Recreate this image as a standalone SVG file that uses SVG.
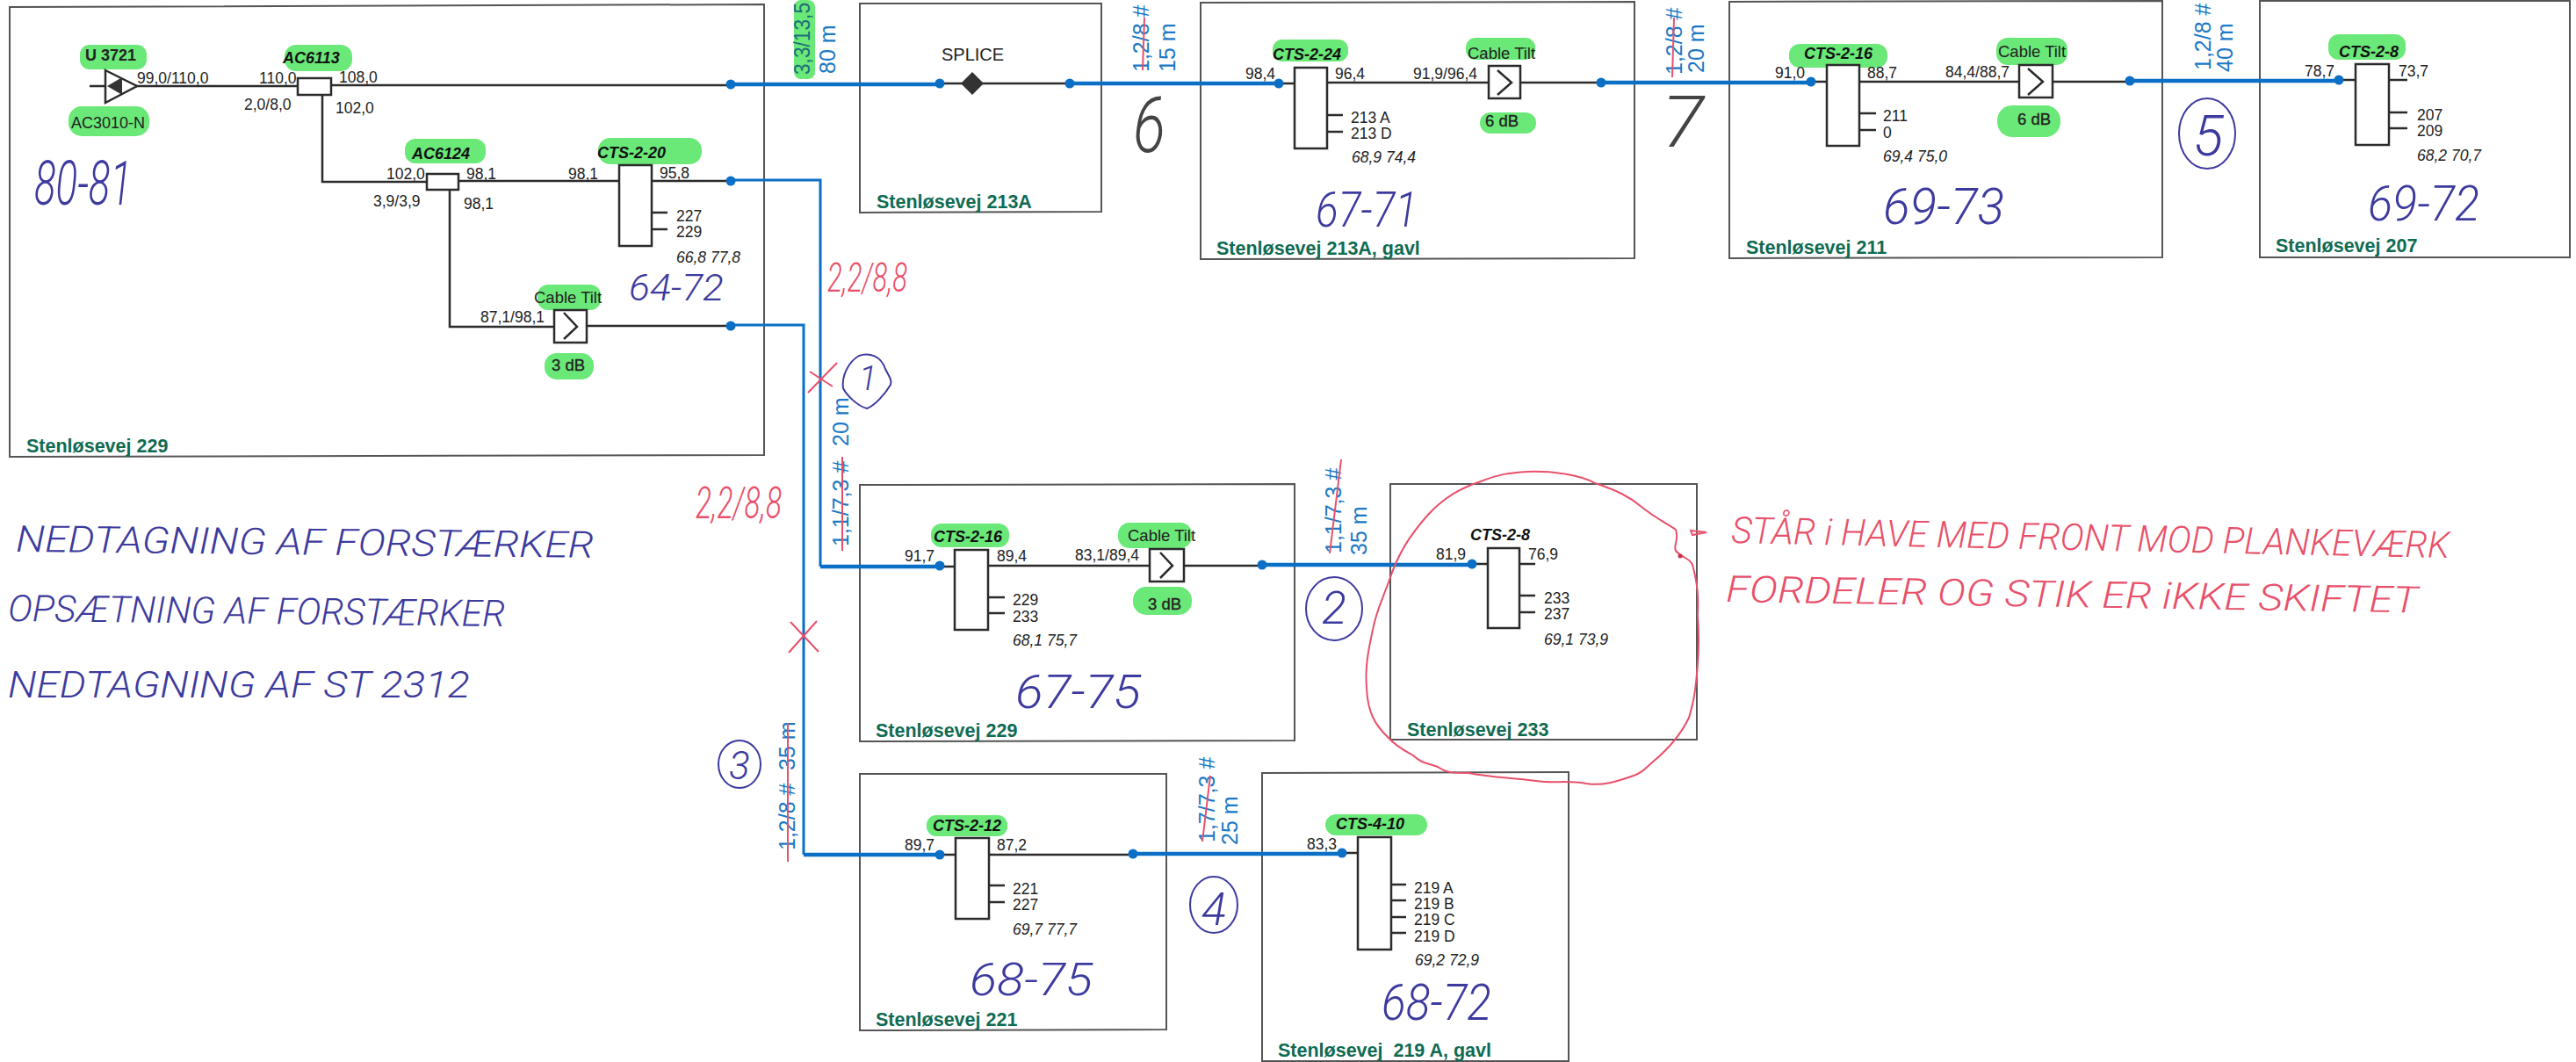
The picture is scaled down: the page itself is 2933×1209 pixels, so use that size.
<svg xmlns="http://www.w3.org/2000/svg" width="2933" height="1209" viewBox="0 0 2933 1209">
<style>
text{font-family:"Liberation Sans",Arial,sans-serif;fill:#222}
.b{fill:none;stroke:#555;stroke-width:2}
.d{fill:#fff;stroke:#2b2b2b;stroke-width:2.5}
.k{fill:none;stroke:#2b2b2b;stroke-width:2.5}
.bl{fill:none;stroke:#0b6fc6;stroke-width:3}
.bt{fill:none;stroke:#0b6fc6;stroke-width:4.5}
.dot{fill:#0b6fc6}
.h{fill:#6ae878}
.v{font-size:17.5px}
.i{font-size:17.5px;font-style:italic}
.n{font-size:18px;font-weight:bold;font-style:italic;fill:#111}
.t{font-size:18.5px}
.db{font-size:18.5px;text-anchor:middle;stroke:#222;stroke-width:.35}
.s{font-size:21.5px;font-weight:bold;fill:#0f6b52}
.c{font-size:25px;fill:#1b79c6}
.hb{font-family:Roboto,sans-serif;font-style:italic;font-weight:300;fill:#3d3a9e}
.hr{font-family:Roboto,sans-serif;font-style:italic;font-weight:300;fill:#e8506a}
.hg{font-family:Roboto,sans-serif;font-style:italic;font-weight:300;fill:#444}
.rl{fill:none;stroke:#e8506a;stroke-width:2}
.bc{fill:none;stroke:#3d3a9e;stroke-width:2}
</style>
<rect width="2933" height="1209" fill="#fff"/>

<g id="box-stenlosevej-229">
<path class="b" d="M11 8L870 5V518L11 520Z"/>
<text class="s" x="30" y="515">Stenløsevej 229</text>
<text class="hb" font-size="70" x="39" y="233" textLength="111" lengthAdjust="spacingAndGlyphs">80-81</text>
<text class="hb" font-size="42" x="716" y="342" textLength="108" lengthAdjust="spacingAndGlyphs">64-72</text>
</g>
<g id="box-stenlosevej-213a">
<path class="b" d="M979 4H1254V241L979 242Z"/>
<text class="s" x="998" y="237">Stenløsevej 213A</text>
</g>
<g id="box-stenlosevej-213a-gavl">
<path class="b" d="M1367 3L1861 2V294L1367 295Z"/>
<text class="s" x="1385" y="290">Stenløsevej 213A, gavl</text>
<text class="hb" font-size="56" x="1498" y="258" textLength="116" lengthAdjust="spacingAndGlyphs">67-71</text>
</g>
<g id="box-stenlosevej-211">
<path class="b" d="M1969 2L2462 1V293L1969 294Z"/>
<text class="s" x="1988" y="289">Stenløsevej 211</text>
<text class="hb" font-size="58" x="2144" y="255" textLength="138" lengthAdjust="spacingAndGlyphs">69-73</text>
</g>
<g id="box-stenlosevej-207">
<path class="b" d="M2573 1H2926V293H2573Z"/>
<text class="s" x="2591" y="287">Stenløsevej 207</text>
<text class="hb" font-size="56" x="2696" y="251" textLength="127" lengthAdjust="spacingAndGlyphs">69-72</text>
</g>
<g id="box-stenlosevej-229b">
<path class="b" d="M979 552L1474 551V843L979 844Z"/>
<text class="s" x="997" y="839">Stenløsevej 229</text>
<text class="hb" font-size="54" x="1156" y="806" textLength="143" lengthAdjust="spacingAndGlyphs">67-75</text>
</g>
<g id="box-stenlosevej-233">
<path class="b" d="M1583 551H1932V842H1583Z"/>
<text class="s" x="1602" y="838">Stenløsevej 233</text>
</g>
<g id="box-stenlosevej-221">
<path class="b" d="M979 881H1328V1172L979 1173Z"/>
<text class="s" x="997" y="1168">Stenløsevej 221</text>
<text class="hb" font-size="52" x="1104" y="1133" textLength="140" lengthAdjust="spacingAndGlyphs">68-75</text>
</g>
<g id="box-stenlosevej-219a-gavl">
<path class="b" d="M1437 880L1786 879V1208H1437Z"/>
<text class="s" x="1455" y="1203" xml:space="preserve">Stenløsevej  219 A, gavl</text>
<text class="hb" font-size="58" x="1573" y="1161" textLength="125" lengthAdjust="spacingAndGlyphs">68-72</text>
</g>

<g id="connectors">
<path class="k" d="M102 98H339M377 97H832M367 108V207H486M522 206H705M742 206H832M512 216V372H631M668 371H832"/>
<path class="k" d="M1070 95H1218M1456 95H1474M1511 94H1823M2062 93H2080M2117 93H2425M2663 91H2741"/>
<path class="k" d="M1070 645H1087M1125 644H1437M1676 642H1748M1070 973H1088M1126 973H1290M1528 971H1546"/>
<path class="bt" d="M832 96H1070M1218 95H1456M1823 94H2062M2425 92H2663"/>
<path class="bl" d="M832 205H934V645"/>
<path class="bl" d="M832 370H915V973"/>
<path class="bt" d="M934 645H1070M915 973H1070M1437 643H1676M1290 972H1528"/>
<circle class="dot" cx="832" cy="96" r="5.5"/><circle class="dot" cx="832" cy="206" r="5.5"/><circle class="dot" cx="832" cy="371" r="5.5"/>
<circle class="dot" cx="1070" cy="95" r="5.5"/><circle class="dot" cx="1218" cy="95" r="5.5"/><circle class="dot" cx="1456" cy="95" r="5.5"/>
<circle class="dot" cx="1823" cy="94" r="5.5"/><circle class="dot" cx="2062" cy="93" r="5.5"/><circle class="dot" cx="2425" cy="92" r="5.5"/><circle class="dot" cx="2663" cy="91" r="5.5"/>
<circle class="dot" cx="1070" cy="644" r="5.5"/><circle class="dot" cx="1437" cy="643" r="5.5"/><circle class="dot" cx="1676" cy="642" r="5.5"/>
<circle class="dot" cx="1070" cy="973" r="5.5"/><circle class="dot" cx="1290" cy="972" r="5.5"/><circle class="dot" cx="1528" cy="971" r="5.5"/>
</g>

<g id="cable-labels">
<rect class="h" x="904" y="0" width="24" height="90" rx="8"/>
<text class="c" style="fill:#1f6f7a" transform="translate(922 85) rotate(-90)" textLength="82" lengthAdjust="spacingAndGlyphs">3,3/13,5</text>
<text class="c" transform="translate(951 84) rotate(-90)">80 m</text>
<text class="c" transform="translate(1308 82) rotate(-90)">1,2/8 #</text>
<text class="c" transform="translate(1338 82) rotate(-90)">15 m</text>
<text class="c" transform="translate(1915 85) rotate(-90)">1,2/8 #</text>
<text class="c" transform="translate(1940 83) rotate(-90)">20 m</text>
<text class="c" transform="translate(2517 80) rotate(-90)">1,2/8 #</text>
<text class="c" transform="translate(2542 82) rotate(-90)">40 m</text>
<text class="c" transform="translate(966 622) rotate(-90)">1,1/7,3 #</text>
<text class="c" transform="translate(966 508) rotate(-90)">20 m</text>
<text class="c" transform="translate(1527 630) rotate(-90)">1,1/7,3 #</text>
<text class="c" transform="translate(1556 632) rotate(-90)">35 m</text>
<text class="c" transform="translate(905 968) rotate(-90)">1,2/8 #</text>
<text class="c" transform="translate(905 877) rotate(-90)">35 m</text>
<text class="c" transform="translate(1383 959) rotate(-90)">1,7/7,3 #</text>
<text class="c" transform="translate(1409 962) rotate(-90)">25 m</text>
</g>

<g id="amplifier-u3721">
<rect class="h" x="91" y="51" width="76" height="28" rx="11"/>
<rect class="h" x="78" y="121" width="92" height="34" rx="15"/>
<path class="d" d="M120 80L156 98L120 117Z"/>
<path d="M122 98L139 88V108Z" fill="#333"/>
<text x="97" y="69" font-size="18" font-weight="bold">U 3721</text>
<text x="81" y="146" font-size="18">AC3010-N</text>
<text class="v" x="156" y="95">99,0/110,0</text>
</g>
<g id="splitter-ac6113">
<rect class="h" x="324" y="51" width="77" height="30" rx="13"/>
<rect class="d" x="339" y="89" width="38" height="19"/>
<text class="n" x="322" y="72">AC6113</text>
<text class="v" x="295" y="95">110,0</text>
<text class="v" x="386" y="94">108,0</text>
<text class="v" x="278" y="125">2,0/8,0</text>
<text class="v" x="382" y="129">102,0</text>
</g>
<g id="splitter-ac6124">
<rect class="h" x="461" y="158" width="92" height="28" rx="12"/>
<rect class="d" x="486" y="198" width="36" height="18"/>
<text class="n" x="469" y="181">AC6124</text>
<text class="v" x="440" y="204">102,0</text>
<text class="v" x="531" y="204">98,1</text>
<text class="v" x="425" y="235">3,9/3,9</text>
<text class="v" x="528" y="238">98,1</text>
</g>
<g id="tap-cts-2-20">
<rect class="h" x="681" y="157" width="118" height="30" rx="14"/>
<path class="k" d="M742 242H760M742 261H760"/>
<rect class="d" x="705" y="188" width="37" height="92"/>
<text class="n" x="680" y="180">CTS-2-20</text>
<text class="v" x="647" y="204">98,1</text>
<text class="v" x="751" y="203">95,8</text>
<text class="v" x="770" y="252">227</text>
<text class="v" x="770" y="270">229</text>
<text class="i" x="770" y="299">66,8 77,8</text>
</g>
<g id="tilt-3db-a">
<rect class="h" x="612" y="324" width="72" height="29" rx="12"/>
<rect class="h" x="620" y="402" width="56" height="30" rx="14"/>
<rect class="d" x="631" y="353" width="37" height="37"/>
<path class="k" d="M642 356L657 372L642 386"/>
<text class="t" x="608" y="345">Cable Tilt</text>
<text class="v" x="547" y="367">87,1/98,1</text>
<text class="db" x="647" y="422">3 dB</text>
</g>
<g id="splice">
<path d="M1107 82L1120 95L1107 108L1094 95Z" fill="#333"/>
<text x="1072" y="69" font-size="20">SPLICE</text>
</g>
<g id="tap-cts-2-24">
<rect class="h" x="1449" y="45" width="86" height="25" rx="11"/>
<path class="k" d="M1511 131H1529M1511 150H1529"/>
<rect class="d" x="1474" y="77" width="37" height="92"/>
<text class="n" x="1449" y="68">CTS-2-24</text>
<text class="v" x="1418" y="90">98,4</text>
<text class="v" x="1520" y="90">96,4</text>
<text class="v" x="1538" y="140">213 A</text>
<text class="v" x="1538" y="158">213 D</text>
<text class="i" x="1539" y="185">68,9 74,4</text>
</g>
<g id="tilt-6db-a">
<rect class="h" x="1669" y="43" width="79" height="25" rx="11"/>
<rect class="h" x="1685" y="128" width="64" height="24" rx="12"/>
<rect class="d" x="1695" y="75" width="36" height="37"/>
<path class="k" d="M1705 80L1721 94L1705 108"/>
<text class="t" x="1671" y="67">Cable Tilt</text>
<text class="v" x="1609" y="90">91,9/96,4</text>
<text class="db" x="1710" y="144">6 dB</text>
</g>
<g id="tap-cts-2-16-a">
<rect class="h" x="2037" y="50" width="112" height="27" rx="12"/>
<path class="k" d="M2117 129H2136M2117 148H2136"/>
<rect class="d" x="2080" y="74" width="37" height="92"/>
<text class="n" x="2054" y="67">CTS-2-16</text>
<text class="v" x="2021" y="89">91,0</text>
<text class="v" x="2126" y="89">88,7</text>
<text class="v" x="2144" y="138">211</text>
<text class="v" x="2144" y="157">0</text>
<text class="i" x="2144" y="184">69,4 75,0</text>
</g>
<g id="tilt-6db-b">
<rect class="h" x="2273" y="43" width="81" height="31" rx="13"/>
<rect class="h" x="2274" y="120" width="72" height="36" rx="17"/>
<rect class="d" x="2299" y="74" width="38" height="37"/>
<path class="k" d="M2309 78L2326 93L2309 108"/>
<text class="t" x="2275" y="65">Cable Tilt</text>
<text class="v" x="2215" y="88">84,4/88,7</text>
<text class="db" x="2316" y="142">6 dB</text>
</g>
<g id="tap-cts-2-8-a">
<rect class="h" x="2651" y="39" width="88" height="29" rx="12"/>
<path class="k" d="M2720 128H2741M2720 146H2741"/>
<rect class="d" x="2682" y="73" width="38" height="92"/>
<text class="n" x="2663" y="65">CTS-2-8</text>
<text class="v" x="2624" y="87">78,7</text>
<text class="v" x="2731" y="87">73,7</text>
<text class="v" x="2752" y="137">207</text>
<text class="v" x="2752" y="155">209</text>
<text class="i" x="2752" y="183">68,2 70,7</text>
</g>
<g id="tap-cts-2-16-b">
<rect class="h" x="1060" y="596" width="89" height="27" rx="12"/>
<path class="k" d="M1125 680H1144M1125 698H1144"/>
<rect class="d" x="1087" y="626" width="38" height="91"/>
<text class="n" x="1063" y="617">CTS-2-16</text>
<text class="v" x="1030" y="639">91,7</text>
<text class="v" x="1135" y="639">89,4</text>
<text class="v" x="1153" y="689">229</text>
<text class="v" x="1153" y="708">233</text>
<text class="i" x="1153" y="735">68,1 75,7</text>
</g>
<g id="tilt-3db-b">
<rect class="h" x="1273" y="595" width="84" height="29" rx="13"/>
<rect class="h" x="1290" y="668" width="67" height="32" rx="15"/>
<rect class="d" x="1309" y="625" width="39" height="37"/>
<path class="k" d="M1321 629L1335 644L1321 658"/>
<text class="t" x="1284" y="616">Cable Tilt</text>
<text class="v" x="1224" y="638">83,1/89,4</text>
<text class="db" x="1326" y="694">3 dB</text>
</g>
<g id="tap-cts-2-8-b">
<path class="k" d="M1730 678H1748M1730 697H1748"/>
<rect class="d" x="1694" y="624" width="36" height="91"/>
<text class="n" x="1674" y="615">CTS-2-8</text>
<text class="v" x="1635" y="637">81,9</text>
<text class="v" x="1740" y="637">76,9</text>
<text class="v" x="1758" y="687">233</text>
<text class="v" x="1758" y="705">237</text>
<text class="i" x="1758" y="734">69,1 73,9</text>
</g>
<g id="tap-cts-2-12">
<rect class="h" x="1055" y="928" width="92" height="24" rx="11"/>
<path class="k" d="M1126 1008H1144M1126 1027H1144"/>
<rect class="d" x="1088" y="954" width="38" height="92"/>
<text class="n" x="1062" y="946">CTS-2-12</text>
<text class="v" x="1030" y="968">89,7</text>
<text class="v" x="1135" y="968">87,2</text>
<text class="v" x="1153" y="1018">221</text>
<text class="v" x="1153" y="1036">227</text>
<text class="i" x="1153" y="1064">69,7 77,7</text>
</g>
<g id="tap-cts-4-10">
<rect class="h" x="1509" y="927" width="116" height="24" rx="12"/>
<path class="k" d="M1584 1007H1601M1584 1025H1601M1584 1044H1601M1584 1062H1601"/>
<rect class="d" x="1546" y="953" width="38" height="128"/>
<text class="n" x="1521" y="944">CTS-4-10</text>
<text class="v" x="1488" y="967">83,3</text>
<text class="v" x="1610" y="1017">219 A</text>
<text class="v" x="1610" y="1035">219 B</text>
<text class="v" x="1610" y="1053">219 C</text>
<text class="v" x="1610" y="1072">219 D</text>
<text class="i" x="1611" y="1099">69,2 72,9</text>
</g>

<g id="red-annotations">
<path class="rl" d="M1301 80L1303 20M1904 88L1906 20M959 627V520M897 981V823M1514 630L1527 523M1369 958L1378 883"/>
<path class="rl" d="M920 447L953 413M922 423L948 440M898 743L930 707M900 708L932 742"/>
<path class="rl" d="M1739 537C1770 536 1800 541 1816 550C1840 558 1855 565 1869 577C1885 590 1900 597 1908 603C1912 615 1905 620 1908 627C1915 635 1925 636 1927 643C1933 665 1934 680 1933 700C1935 730 1934 750 1932 767C1930 790 1928 800 1923 817C1912 840 1897 855 1881 868C1870 878 1868 880 1860 883C1840 890 1825 895 1806 892C1785 888 1768 892 1749 889C1720 885 1697 885 1672 880C1655 880 1647 880 1637 873C1625 868 1620 870 1609 860C1600 855 1590 850 1581 840C1565 825 1557 810 1556 783C1554 760 1558 740 1563 717C1567 695 1575 680 1582 660C1592 630 1605 610 1625 587C1645 565 1665 555 1686 548C1705 540 1720 538 1739 537Z"/>
<path class="rl" d="M1925 604L1943 606L1927 609Z"/>
<circle cx="1913" cy="633" r="2.5" fill="#c9304a"/>
<text class="hr" font-size="46" x="942" y="332" textLength="91" lengthAdjust="spacingAndGlyphs">2,2/8,8</text>
<text class="hr" font-size="50" x="792" y="590" textLength="98" lengthAdjust="spacingAndGlyphs">2,2/8,8</text>
<text class="hr" font-size="42" transform="translate(1971 618) rotate(1.2)" textLength="818" lengthAdjust="spacingAndGlyphs">STÅR i HAVE MED FRONT MOD PLANKEVÆRK</text>
<text class="hr" font-size="42" transform="translate(1965 685) rotate(0.9)" textLength="788" lengthAdjust="spacingAndGlyphs">FORDELER OG STIK ER iKKE SKIFTET</text>
</g>

<g id="handwritten-notes">
<text class="hb" font-size="42" transform="translate(18 628) rotate(0.6)" textLength="658" lengthAdjust="spacingAndGlyphs">NEDTAGNING AF FORSTÆRKER</text>
<text class="hb" font-size="42" transform="translate(9 707) rotate(0.6)" textLength="566" lengthAdjust="spacingAndGlyphs">OPSÆTNING AF FORSTÆRKER</text>
<text class="hb" font-size="42" transform="translate(9 794)" textLength="526" lengthAdjust="spacingAndGlyphs">NEDTAGNING AF ST 2312</text>
<path class="bc" d="M978 405C990 401 1003 405 1008 420C1012 428 1016 433 1014 438C1008 448 996 462 987 465C976 462 964 450 960 442C958 428 966 412 978 405Z"/>
<text class="hb" font-size="38" x="978" y="444">1</text>
<ellipse class="bc" cx="1519" cy="693" rx="32" ry="36"/>
<text class="hb" font-size="52" x="1505" y="710">2</text>
<ellipse class="bc" cx="842" cy="870" rx="24" ry="27"/>
<text class="hb" font-size="44" x="830" y="887">3</text>
<ellipse class="bc" cx="1382" cy="1030" rx="27" ry="32"/>
<text class="hb" font-size="52" x="1368" y="1053">4</text>
<ellipse class="bc" cx="2513" cy="152" rx="32" ry="40"/>
<text class="hb" font-size="64" x="2497" y="177">5</text>
<text class="hg" font-size="88" x="1290" y="173" textLength="37" lengthAdjust="spacingAndGlyphs">6</text>
<text class="hg" font-size="82" x="1892" y="167" textLength="48" lengthAdjust="spacingAndGlyphs">7</text>
</g>
</svg>
